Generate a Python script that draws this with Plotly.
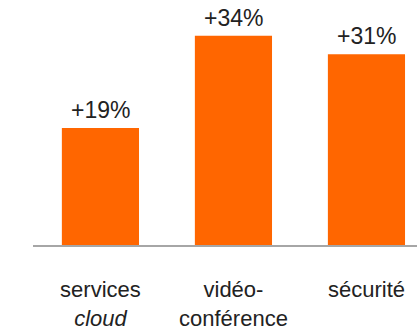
import plotly.graph_objects as go

categories = ["services<br><i>cloud</i>", "vidéo-<br>conférence", "sécurité"]
values = [19, 34, 31]
value_labels = ["+19%", "+34%", "+31%"]

FONT = "Liberation Sans, Arial, sans-serif"
TEXT_COLOR = "#222222"
BAR_COLOR = "#FF6600"

x_idx = list(range(len(categories)))

fig = go.Figure()
fig.add_trace(go.Bar(
    x=x_idx,
    y=values,
    width=0.58,
    marker=dict(color=BAR_COLOR, line=dict(width=0)),
    hoverinfo="skip",
))

for xi, v, lab in zip(x_idx, values, value_labels):
    fig.add_annotation(
        x=xi, y=v, text=lab, showarrow=False,
        xanchor="center", yanchor="bottom", yshift=3,
        font=dict(family=FONT, size=23, color=TEXT_COLOR),
    )

fig.update_layout(
    width=417, height=331,
    margin=dict(l=33, r=0, t=0, b=76, pad=0),
    paper_bgcolor="white", plot_bgcolor="white",
    showlegend=False,
    font=dict(family=FONT, size=22, color=TEXT_COLOR),
)
fig.update_xaxes(
    range=[-0.507, 2.38],
    tickmode="array", tickvals=x_idx, ticktext=categories,
    showgrid=False, zeroline=False,
    showline=True, linecolor="#a6a6a6", linewidth=2,
    ticks="", ticklabelstandoff=24,
    tickfont=dict(family=FONT, size=22, color=TEXT_COLOR),
    fixedrange=True,
)
fig.update_yaxes(
    range=[0, 39.8], visible=False, showgrid=False, zeroline=False,
    fixedrange=True,
)

fig.write_html(
    "out.html",
    config={"displayModeBar": False},
    post_script="document.body.style.margin='0';document.body.style.overflow='hidden';",
)
